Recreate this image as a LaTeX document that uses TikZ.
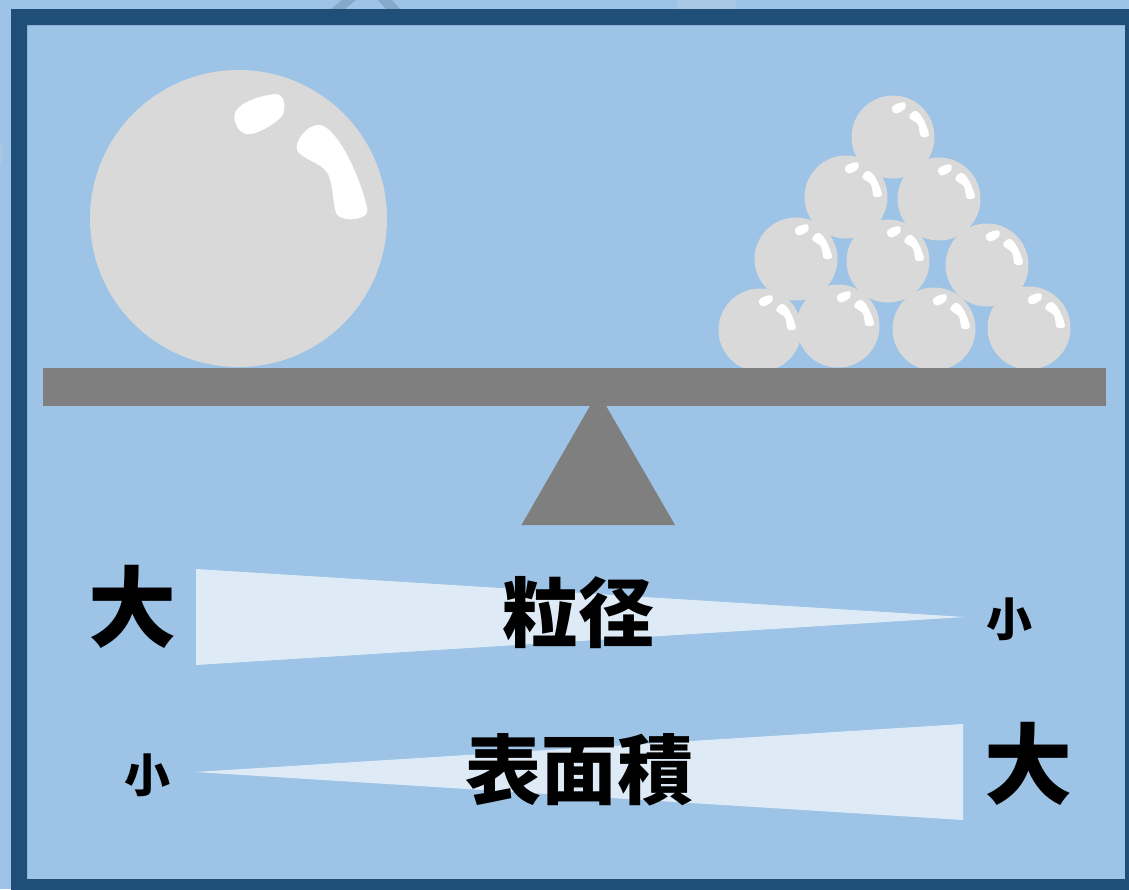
\documentclass[tikz,border=0pt]{standalone}
\usepackage{fontspec}
\newfontfamily\jp{Noto Sans CJK JP}
\definecolor{skyblue}{HTML}{9DC3E6}
\definecolor{framenavy}{HTML}{1F4E79}
\definecolor{ballgray}{HTML}{D9D9D9}
\definecolor{beamgray}{HTML}{7F7F7F}
\definecolor{wedgepale}{HTML}{DEEBF7}
\definecolor{ghostdark}{HTML}{86A9CB}
\definecolor{ghostlight}{HTML}{A9C8E6}
\tikzset{
  % a glossy ball of radius 1, highlights in the upper right
  ball/.pic={
    \fill[ballgray] (0,0) circle (1);
    \fill[white] (-0.028,-0.686) .. controls (-0.03,-0.76) and (0.10,-0.82) .. (0.24,-0.838)
      .. controls (0.31,-0.845) and (0.32,-0.76) .. (0.30,-0.70)
      .. controls (0.28,-0.66) and (0.13,-0.56) .. (0.06,-0.568)
      .. controls (0.0,-0.575) and (-0.027,-0.64) .. (-0.028,-0.686) -- cycle;
    \fill[white] (0.40,-0.45) .. controls (0.36,-0.50) and (0.46,-0.64) .. (0.55,-0.63)
      .. controls (0.68,-0.60) and (0.83,-0.25) .. (0.868,-0.06)
      .. controls (0.88,0.01) and (0.70,0.03) .. (0.66,-0.03)
      .. controls (0.63,-0.10) and (0.64,-0.28) .. (0.58,-0.33)
      .. controls (0.53,-0.38) and (0.44,-0.40) .. (0.40,-0.45) -- cycle;
  },
  wedge/.style={fill=wedgepale},
  bigword/.style={font=\jp\bfseries\fontsize{88}{90}\selectfont, inner sep=0pt},
  midword/.style={font=\jp\bfseries\fontsize{76}{78}\selectfont, inner sep=0pt},
  smallword/.style={font=\jp\bfseries\fontsize{46}{48}\selectfont, inner sep=0pt},
}
\begin{document}
\begin{tikzpicture}[x=1pt,y=-1pt]
  \useasboundingbox (0,0) rectangle (1129,889);
  \fill[skyblue] (0,0) rectangle (1129,889);
  % shapes peeking in above the frame
  \fill[ghostdark] (331,9) -- (342,0) -- (356,0) -- (345,9) -- cycle;
  \fill[ghostdark] (378,0) -- (392,0) -- (400,9) -- (386,9) -- cycle;
  \fill[ghostlight] (677,0) rectangle (736,9);
  \fill[ghostlight] (0,140) .. controls (4,146) and (4,158) .. (0,165) -- cycle;
  % frame
  \fill[framenavy, even odd rule] (11,9) rectangle (1140,900) (27,25) rectangle (1125,879);

  % big ball on the left
  \pic[scale=148.5] at (238.5,218.5) {ball};
  % pile of small balls on the right
  \foreach \bx/\by in {760/330, 838/326, 934/329, 1029/328,
                       796/259, 888/261, 987/265,
                       846/197, 939/199, 893/137}
    \pic[scale=41.5] at (\bx,\by) {ball};

  % seesaw
  \fill[beamgray] (598,392) -- (675,525) -- (521.5,525) -- cycle;
  \fill[beamgray] (43,368) rectangle (1106,406);

  % particle size: large to small
  \fill[wedge] (196,569) -- (965,617) -- (196,665) -- cycle;
  \node[bigword] (big1) at (132,607) {大};
  \node[midword] (size) at (578,613) {粒径};
  \node[smallword] (small1) at (1009,619) {小};

  % surface area: small to large
  \fill[wedge] (195,772) -- (963,724) -- (963,820) -- cycle;
  \node[smallword] (small2) at (147,775) {小};
  \node[midword] (area) at (579,770) {表面積};
  \node[bigword] (big2) at (1028,764) {大};
\end{tikzpicture}
\end{document}
